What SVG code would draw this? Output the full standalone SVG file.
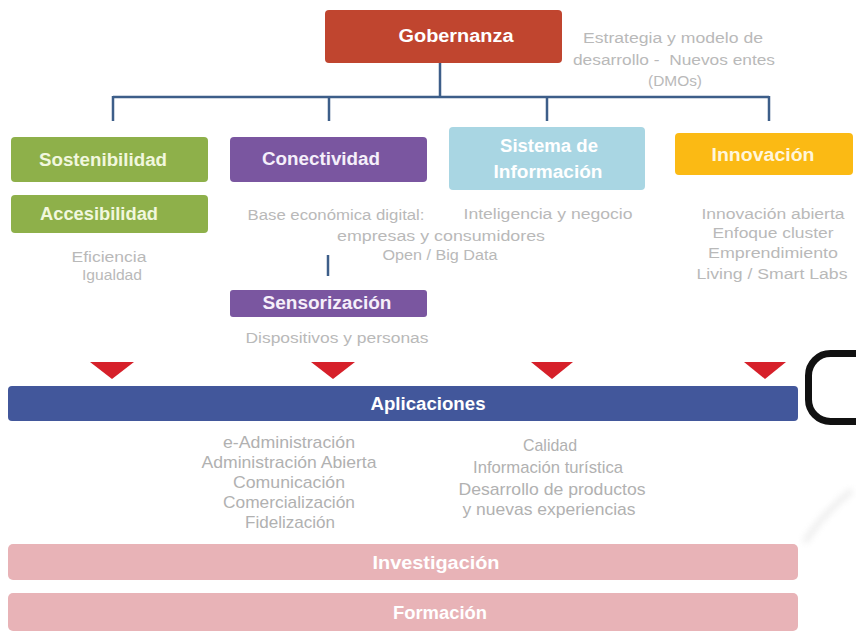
<svg xmlns="http://www.w3.org/2000/svg" width="856" height="634" viewBox="0 0 856 634">
<defs>
<style>
.bg{fill:#ffffff}
.lbl{font-family:"Liberation Sans",Arial,sans-serif;font-weight:bold;font-size:18px;fill:#ffffff;text-anchor:middle}
.note{font-family:"Liberation Sans",Arial,sans-serif;font-size:14px;fill:#b9b9b9;text-anchor:middle}
.list{font-family:"Liberation Sans",Arial,sans-serif;font-size:17px;fill:#b1b1b1;text-anchor:middle}
.conn{stroke:#3d5e89;stroke-width:2.5;fill:none}
.tri{fill:#d6202a}
</style>
<filter id="soft" x="-50%" y="-50%" width="200%" height="200%"><feGaussianBlur stdDeviation="3"/></filter>
</defs>
<rect class="bg" x="0" y="0" width="856" height="634"/>

<g id="connectors">
<path class="conn" d="M440 63 V97 M113 97 H769 M113 96 V121 M329 96 V121 M547 96 V121 M769 96 V121"/>
<path class="conn" d="M328 255 V276"/>
<polygon class="tri" points="90,362 134,362 112,379"/>
<polygon class="tri" points="311,362 355,362 333,379"/>
<polygon class="tri" points="531,362 573,362 552,379"/>
<polygon class="tri" points="744,362 786,362 765,379"/>
</g>

<g id="gobernanza">
<rect x="325" y="10" width="237" height="53" rx="4" fill="#c0452f"/>
<text class="lbl" x="456" y="42" textLength="115" lengthAdjust="spacingAndGlyphs">Gobernanza</text>
<text class="note" x="673" y="43" textLength="180" lengthAdjust="spacingAndGlyphs">Estrategia y modelo de</text>
<text class="note" x="674" y="65" textLength="202" lengthAdjust="spacingAndGlyphs" xml:space="preserve">desarrollo -  Nuevos entes</text>
<text class="note" x="675" y="86" textLength="54" lengthAdjust="spacingAndGlyphs">(DMOs)</text>
</g>

<g id="sostenibilidad">
<rect x="11" y="137" width="197" height="45" rx="4" fill="#8eb04a"/>
<text class="lbl" x="103" y="166" textLength="128" lengthAdjust="spacingAndGlyphs" style="fill:#f1f7de">Sostenibilidad</text>
</g>

<g id="accesibilidad">
<rect x="11" y="195" width="197" height="38" rx="4" fill="#8eb04a"/>
<text class="lbl" x="99" y="220" textLength="118" lengthAdjust="spacingAndGlyphs" style="fill:#f1f7de">Accesibilidad</text>
<text class="note" x="109" y="262" textLength="75" lengthAdjust="spacingAndGlyphs">Eficiencia</text>
<text class="note" x="112" y="280" textLength="60" lengthAdjust="spacingAndGlyphs">Igualdad</text>
</g>

<g id="conectividad">
<rect x="230" y="137" width="197" height="45" rx="4" fill="#7a56a0"/>
<text class="lbl" x="321" y="165" textLength="118" lengthAdjust="spacingAndGlyphs" style="fill:#f5effa">Conectividad</text>
<text class="note" x="336" y="220" textLength="177" lengthAdjust="spacingAndGlyphs">Base económica digital:</text>
<text class="note" x="441" y="241" textLength="208" lengthAdjust="spacingAndGlyphs">empresas y consumidores</text>
<text class="note" x="440" y="260" textLength="115" lengthAdjust="spacingAndGlyphs">Open / Big Data</text>
</g>

<g id="sensorizacion">
<rect x="230" y="290" width="197" height="27" rx="3" fill="#7a56a0"/>
<text class="lbl" x="327" y="309" textLength="129" lengthAdjust="spacingAndGlyphs" style="fill:#f5effa">Sensorización</text>
<text class="note" x="337" y="343" textLength="183" lengthAdjust="spacingAndGlyphs">Dispositivos y personas</text>
</g>

<g id="sistema-informacion">
<rect x="449" y="127" width="196" height="63" rx="4" fill="#a9d6e3"/>
<text class="lbl" x="549" y="152" textLength="98" lengthAdjust="spacingAndGlyphs">Sistema de</text>
<text class="lbl" x="548" y="178" textLength="109" lengthAdjust="spacingAndGlyphs">Información</text>
<text class="note" x="548" y="219" textLength="169" lengthAdjust="spacingAndGlyphs">Inteligencia y negocio</text>
</g>

<g id="innovacion">
<rect x="675" y="133" width="178" height="42" rx="4" fill="#fbba14"/>
<text class="lbl" x="763" y="161" textLength="103" lengthAdjust="spacingAndGlyphs" style="fill:#fff6dc">Innovación</text>
<text class="note" x="773" y="219" textLength="143" lengthAdjust="spacingAndGlyphs">Innovación abierta</text>
<text class="note" x="773" y="238" textLength="121" lengthAdjust="spacingAndGlyphs">Enfoque cluster</text>
<text class="note" x="773" y="258" textLength="130" lengthAdjust="spacingAndGlyphs">Emprendimiento</text>
<text class="note" x="772" y="279" textLength="151" lengthAdjust="spacingAndGlyphs">Living / Smart Labs</text>
</g>

<g id="aplicaciones">
<rect x="8" y="386" width="790" height="35" rx="4" fill="#42579b"/>
<text class="lbl" x="428" y="410" textLength="115" lengthAdjust="spacingAndGlyphs">Aplicaciones</text>
<text class="list" x="289" y="448" textLength="132" lengthAdjust="spacingAndGlyphs">e-Administración</text>
<text class="list" x="289" y="468" textLength="175" lengthAdjust="spacingAndGlyphs">Administración Abierta</text>
<text class="list" x="289" y="488" textLength="112" lengthAdjust="spacingAndGlyphs">Comunicación</text>
<text class="list" x="289" y="508" textLength="132" lengthAdjust="spacingAndGlyphs">Comercialización</text>
<text class="list" x="290" y="528" textLength="90" lengthAdjust="spacingAndGlyphs">Fidelización</text>
<text class="list" x="550" y="451" textLength="54" lengthAdjust="spacingAndGlyphs">Calidad</text>
<text class="list" x="548" y="473" textLength="150" lengthAdjust="spacingAndGlyphs">Información turística</text>
<text class="list" x="552" y="495" textLength="187" lengthAdjust="spacingAndGlyphs">Desarrollo de productos</text>
<text class="list" x="549" y="515" textLength="173" lengthAdjust="spacingAndGlyphs">y nuevas experiencias</text>
</g>

<g id="investigacion">
<rect x="8" y="544" width="790" height="36" rx="5" fill="#e8b3b7"/>
<text class="lbl" x="436" y="569" textLength="127" lengthAdjust="spacingAndGlyphs">Investigación</text>
</g>

<g id="formacion">
<rect x="8" y="593" width="790" height="38" rx="5" fill="#e8b3b7"/>
<text class="lbl" x="440" y="619" textLength="94" lengthAdjust="spacingAndGlyphs">Formación</text>
</g>

<rect x="808.5" y="353.5" width="90" height="68" rx="22" fill="none" stroke="#111111" stroke-width="7"/>
<path d="M806 540 Q825 512 850 492" fill="none" stroke="#cfcfcf" stroke-width="6" stroke-linecap="round" opacity="0.35" filter="url(#soft)"/>
</svg>
